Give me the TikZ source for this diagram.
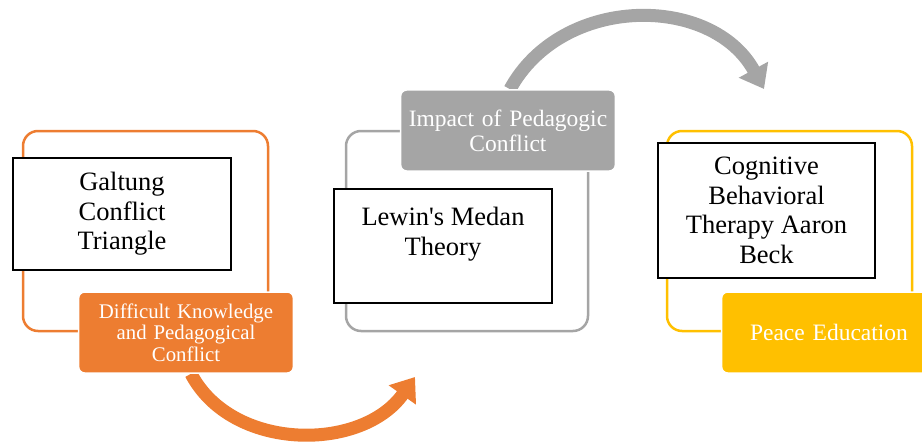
\documentclass[tikz,border=0pt]{standalone}
\usepackage{fontspec}
\setmainfont{Liberation Serif}
\usetikzlibrary{arrows.meta, backgrounds}
\definecolor{accorange}{HTML}{ED7D31}
\definecolor{accgray}{HTML}{A5A5A5}
\definecolor{accyellow}{HTML}{FFC000}
\tikzstyle{frame} = [rectangle, line width=2.5pt, rounded corners=15pt, minimum width=245pt, minimum height=200pt]
\tikzstyle{theory} = [rectangle, draw=black, fill=white, line width=1.5pt, align=center, minimum width=218pt, font=\fontsize{26.5}{29.5}\selectfont]
\tikzstyle{topic} = [rectangle, draw=white, line width=1.5pt, rounded corners=6pt, text=white, align=center, text width=208pt, minimum width=212pt, minimum height=81pt, font=\fontsize{23.5}{25}\selectfont]
\tikzstyle{bigarrow} = [line width=13pt, -{Triangle[length=22pt, width=32pt]}]

\begin{document}
\begin{tikzpicture}[x=1pt, y=-1pt]
	\useasboundingbox (0,0) rectangle (922,444);
	% Frames
	\node (galtungframe) [frame, draw=accorange] at (145.5,231) {};
	\node (lewinframe) [frame, draw=accgray, minimum width=242pt] at (467,231) {};
	\node (beckframe) [frame, draw=accyellow] at (789.5,231) {};
	
	% Theories
	\node (galtung) [theory, minimum height=112pt] at (122,214) {Galtung\\Conflict\\Triangle};
	\node (lewin) [theory, minimum height=114pt] at (443,246) {Lewin\textquotesingle s Medan\\Theory\\~};
	\node (beck) [theory, minimum height=135pt, minimum width=217pt] at (766.5,210.5) {Cognitive\\Behavioral\\Therapy Aaron\\Beck};
	
	% Topics
	\node (knowledge) [topic, fill=accorange, font=\fontsize{20.8}{21.5}\selectfont] at (186,332.5) {Difficult Knowledge\\and Pedagogical\\Conflict};
	\node (impact) [topic, fill=accgray] at (508,130.5) {Impact of Pedagogic\\Conflict};
	\node (peace) [topic, fill=accyellow] at (829,332.5) {Peace Education};
	
	% Arrows
	\coordinate (lewinin) at (415,377);
	\coordinate (beckin) at (764,89);
	\begin{scope}[on background layer]
		\draw [bigarrow, accorange] ([xshift=5pt]knowledge.south) .. controls (232,452) and (362,452) .. (lewinin);
		\draw [bigarrow, accgray] ([xshift=2pt]impact.north) .. controls (562,-6) and (712,-6) .. (beckin);
	\end{scope}
\end{tikzpicture}
\end{document}
